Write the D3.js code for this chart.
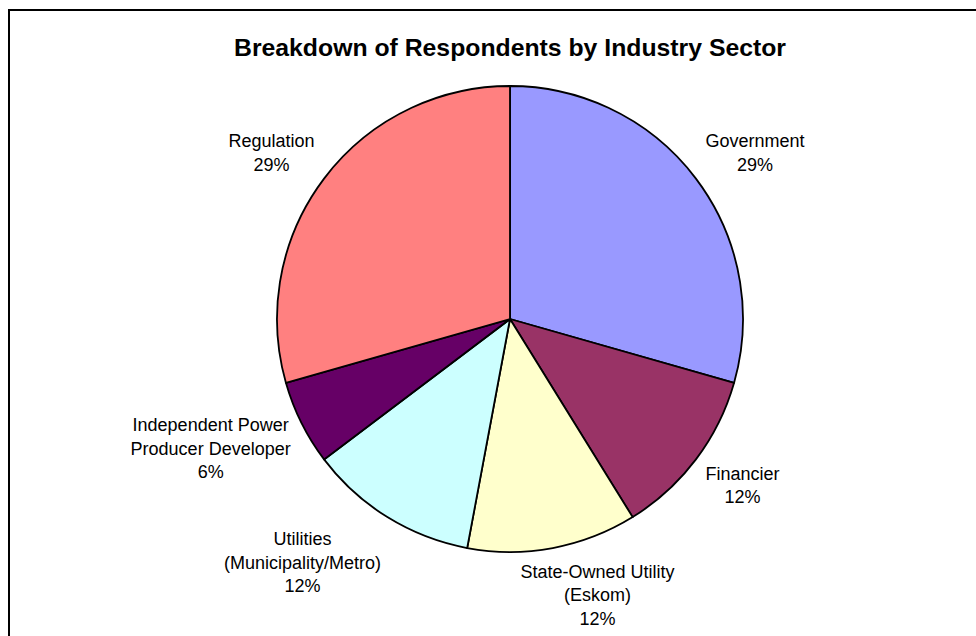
<!DOCTYPE html>
<html>
<head>
<meta charset="utf-8">
<script src="https://cdn.jsdelivr.net/npm/d3@7/dist/d3.min.js"></script>
<style>
  html, body { margin: 0; padding: 0; background: #fff; }
  svg { display: block; }
</style>
</head>
<body>
<svg id="chart" width="976" height="636"></svg>
<script>
// Respondent counts by industry sector, listed clockwise from 12 o'clock
const sectors = [
  ["Government"],
  ["Financier"],
  ["State-Owned Utility", "(Eskom)"],
  ["Utilities", "(Municipality/Metro)"],
  ["Independent Power", "Producer Developer"],
  ["Regulation"]
];
const counts = [5, 2, 2, 2, 1, 5];
const colors = ["#9999FF", "#993366", "#FFFFCC", "#CCFFFF", "#660066", "#FF8080"];
const title = "Breakdown of Respondents by Industry Sector";

const width = 976, height = 636;
const cx = 510, cy = 319, radius = 233;
const fontFamily = "'Liberation Sans', Arial, sans-serif";
const labelSize = 18, lineHeight = 23.5;

const svg = d3.select("#chart");

// Outer frame
svg.append("rect")
  .attr("x", 9).attr("y", 10)
  .attr("width", width + 20).attr("height", height + 20)
  .attr("fill", "none").attr("stroke", "#000").attr("stroke-width", 2);

svg.append("text")
  .attr("x", cx).attr("y", 56)
  .attr("text-anchor", "middle")
  .attr("font-family", fontFamily)
  .attr("font-size", 24)
  .attr("font-weight", "bold")
  .attr("textLength", 552)
  .attr("lengthAdjust", "spacingAndGlyphs")
  .text(title);

const data = counts.map((v, i) => ({ lines: sectors[i], value: v, color: colors[i] }));
const total = d3.sum(counts);

const pie = d3.pie().value(d => d.value).sort(null).startAngle(0).endAngle(2 * Math.PI);
const arc = d3.arc().innerRadius(0).outerRadius(radius);
const arcs = pie(data);

const g = svg.append("g").attr("transform", `translate(${cx},${cy})`);

g.selectAll("path.slice")
  .data(arcs)
  .join("path")
  .attr("class", "slice")
  .attr("d", arc)
  .attr("fill", d => d.data.color)
  .attr("stroke", "#000")
  .attr("stroke-width", 1.8)
  .attr("stroke-linejoin", "round");

const pct = d3.format(".0%");
const labelRadius = radius + 12;
const clamp = v => Math.max(-1, Math.min(1, v));

arcs.forEach(a => {
  const lines = a.data.lines.concat([pct(a.data.value / total)]);
  const mid = (a.startAngle + a.endAngle) / 2;
  const s = Math.sin(mid), c = Math.cos(mid);
  const t = g.append("text")
    .attr("font-family", fontFamily)
    .attr("font-size", labelSize)
    .attr("text-anchor", "middle")
    .attr("fill", "#000");
  lines.forEach((ln, i) => {
    t.append("tspan").attr("x", 0).attr("y", i * lineHeight).text(ln);
  });
  const w = d3.max(t.selectAll("tspan").nodes(), n => n.getComputedTextLength());
  const h = lines.length * lineHeight;
  // box centre pushed away from the pie along the slice's middle direction
  const bx = labelRadius * s + clamp(s * 3) * w / 2;
  const by = -labelRadius * c - clamp(c * 1.3) * h / 2;
  // first baseline sits roughly 0.35em below the first line's centre
  const top = by - h / 2 + lineHeight / 2 + labelSize * 0.35;
  t.attr("transform", `translate(${bx},${top})`);
});
</script>
</body>
</html>
